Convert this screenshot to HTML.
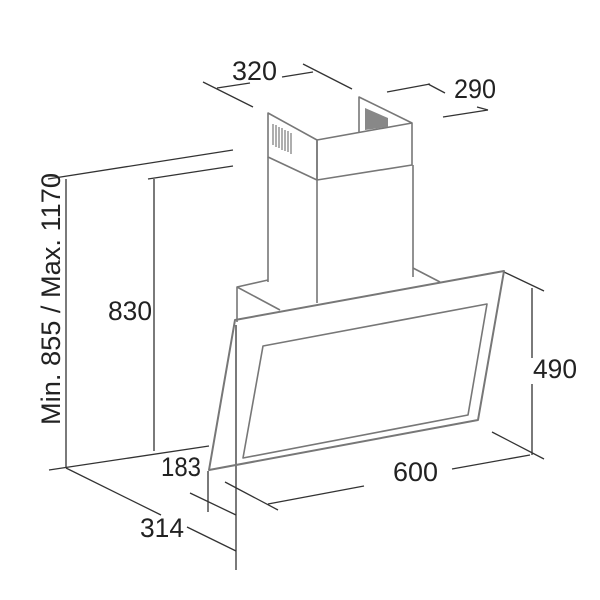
<!DOCTYPE html>
<html><head><meta charset="utf-8"><style>
html,body{margin:0;padding:0;background:#fff;width:600px;height:600px;overflow:hidden}
svg text{font-family:"Liberation Sans Narrow","Liberation Sans",sans-serif;font-size:27px;fill:#222}
</style></head><body>
<svg width="600" height="600" viewBox="0 0 600 600" xmlns="http://www.w3.org/2000/svg">
<g stroke="#333" stroke-width="1.3" fill="none">
<line x1="48" y1="179" x2="233" y2="150"/>
<line x1="148" y1="179" x2="233" y2="166"/>
<line x1="66" y1="179" x2="66" y2="468"/>
<line x1="154" y1="179" x2="154" y2="451"/>
<line x1="49" y1="470" x2="209" y2="446"/>
<line x1="66" y1="468" x2="161" y2="515"/>
<line x1="187" y1="527" x2="236" y2="551"/>
<line x1="236" y1="325" x2="236" y2="570"/>
<line x1="208" y1="471" x2="208" y2="512"/>
<line x1="190" y1="493" x2="236" y2="515"/>
<line x1="225" y1="482" x2="278" y2="510"/>
<line x1="268" y1="504" x2="364" y2="486"/>
<line x1="452" y1="469" x2="530" y2="455"/>
<line x1="492" y1="432" x2="544" y2="459"/>
<line x1="532" y1="288" x2="532" y2="358"/>
<line x1="532" y1="384" x2="532" y2="455"/>
<line x1="504" y1="272" x2="544" y2="291"/>
<line x1="217" y1="88" x2="250" y2="83"/>
<line x1="203" y1="82" x2="253" y2="107"/>
<line x1="282" y1="77" x2="313" y2="72"/>
<line x1="303" y1="64" x2="352" y2="89"/>
<line x1="387" y1="92" x2="430" y2="84"/>
<line x1="428" y1="84" x2="445" y2="93"/>
<line x1="443" y1="117" x2="488" y2="110"/>
<line x1="477" y1="107" x2="488" y2="110"/>
</g>
<g stroke="#777" stroke-width="1.6" fill="none" stroke-linejoin="round">
<polygon points="268,113 317,140 317,180 268,157"/>
<polygon points="317,140 412,123 412,165 317,180"/>
<polyline points="359,132 359,97 412,123"/>
<line x1="268" y1="157" x2="268" y2="282"/>
<line x1="317" y1="180" x2="317" y2="303"/>
<line x1="413" y1="165" x2="413" y2="277"/>
<polyline points="237,322 237,287 268,280"/>
<line x1="237" y1="287" x2="280" y2="310"/>
<line x1="413" y1="268" x2="440" y2="282"/>
<polygon points="235,320 504,271 478,420 209,470" stroke-width="2"/>
<polygon points="263,346 487,304 468,415 243,458"/>
</g>
<g stroke="#777" stroke-width="1.2">
<line x1="273" y1="124" x2="273" y2="145"/><line x1="276" y1="125" x2="276" y2="147"/><line x1="279" y1="127" x2="279" y2="148"/><line x1="282" y1="128" x2="282" y2="150"/><line x1="285" y1="130" x2="285" y2="151"/><line x1="288" y1="131" x2="288" y2="152"/><line x1="291" y1="133" x2="291" y2="154"/>
</g>
<polygon points="365,108 388,118 388,127 365,130" fill="#888"/>
<text x="232" y="80" textLength="45" lengthAdjust="spacingAndGlyphs">320</text>
<text x="454" y="98" textLength="42" lengthAdjust="spacingAndGlyphs">290</text>
<text x="108" y="320" textLength="44" lengthAdjust="spacingAndGlyphs">830</text>
<text x="533" y="378" textLength="44" lengthAdjust="spacingAndGlyphs">490</text>
<text x="393" y="481" textLength="45" lengthAdjust="spacingAndGlyphs">600</text>
<text x="161" y="476" textLength="40" lengthAdjust="spacingAndGlyphs">183</text>
<text x="140" y="537" textLength="44" lengthAdjust="spacingAndGlyphs">314</text>
<text transform="translate(60,425) rotate(-90)" textLength="252" lengthAdjust="spacingAndGlyphs">Min. 855 / Max. 1170</text>
</svg>
</body></html>
